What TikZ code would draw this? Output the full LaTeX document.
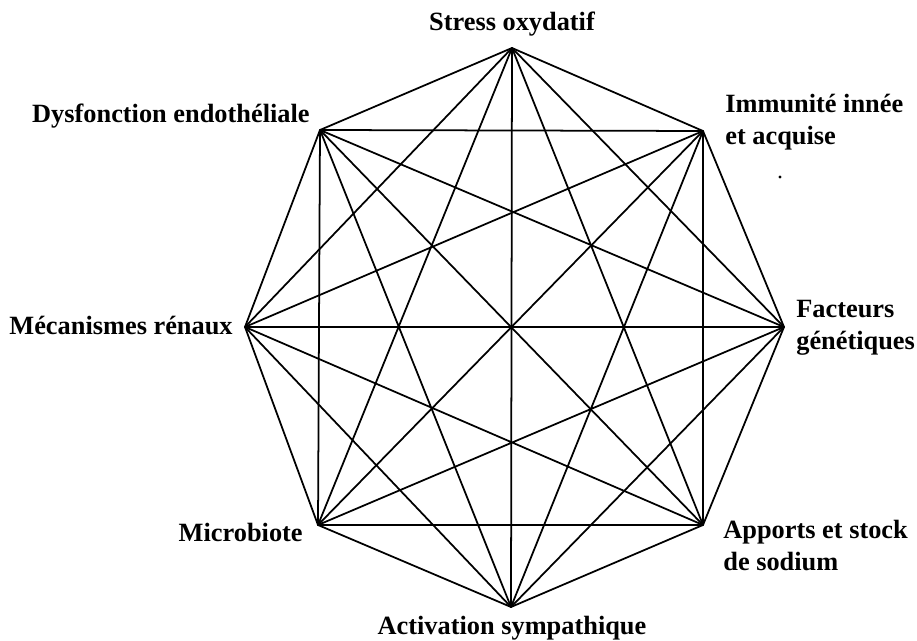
\documentclass[tikz,border=0pt]{standalone}
\usepackage{fontspec}
\setmainfont{Liberation Serif}
\usetikzlibrary{calc}

\tikzset{
  lbl/.style={inner sep=0pt, font=\bfseries\fontsize{15}{18.7}\selectfont, align=left},
  edge/.style={black, line width=1pt, line join=round}
}

\begin{document}
\begin{tikzpicture}[x=0.02cm, y=-0.02cm]

\useasboundingbox (0,0) rectangle (917,641);

\coordinate (S) at (512,48);
\coordinate (I) at (703,131);
\coordinate (F) at (784,327);
\coordinate (A) at (703,525);
\coordinate (V) at (511,607);
\coordinate (M) at (318,525);
\coordinate (R) at (245,327);
\coordinate (D) at (320,130);

% octagon
\draw[edge] (S)--(I)--(F)--(A)--(V)--(M)--(R)--(D)--cycle;
% two squares
\draw[edge] (S)--(F)--(V)--(R)--cycle;
\draw[edge] (I)--(A)--(M)--(D)--cycle;
% star
\draw[edge] (S)--(A)--(R)--(I)--(V)--(D)--(F)--(M)--cycle;
% diameters
\draw[edge] (S)--(V);
\draw[edge] (I)--(M);
\draw[edge] (F)--(R);
\draw[edge] (A)--(D);

\node[lbl, anchor=base] (s) at (512,31) {Stress oxydatif};
\node[lbl, anchor=base west] (i) at (725,145) {Immunité innée\\et acquise};
\node[lbl, anchor=base west] (f) at (796,350) {Facteurs\\génétiques};
\node[lbl, anchor=base west] (a) at (723,571) {Apports et stock\\de sodium};
\node[lbl, anchor=base] (v) at (512,635) {Activation sympathique};
\node[lbl, anchor=base east] (m) at (303,542) {Microbiote};
\node[lbl, anchor=base east] (r) at (233,335) {Mécanismes rénaux};
\node[lbl, anchor=base east] (d) at (310,123) {Dysfonction endothéliale};

\fill (780,177) circle (1.6);

\end{tikzpicture}
\end{document}
